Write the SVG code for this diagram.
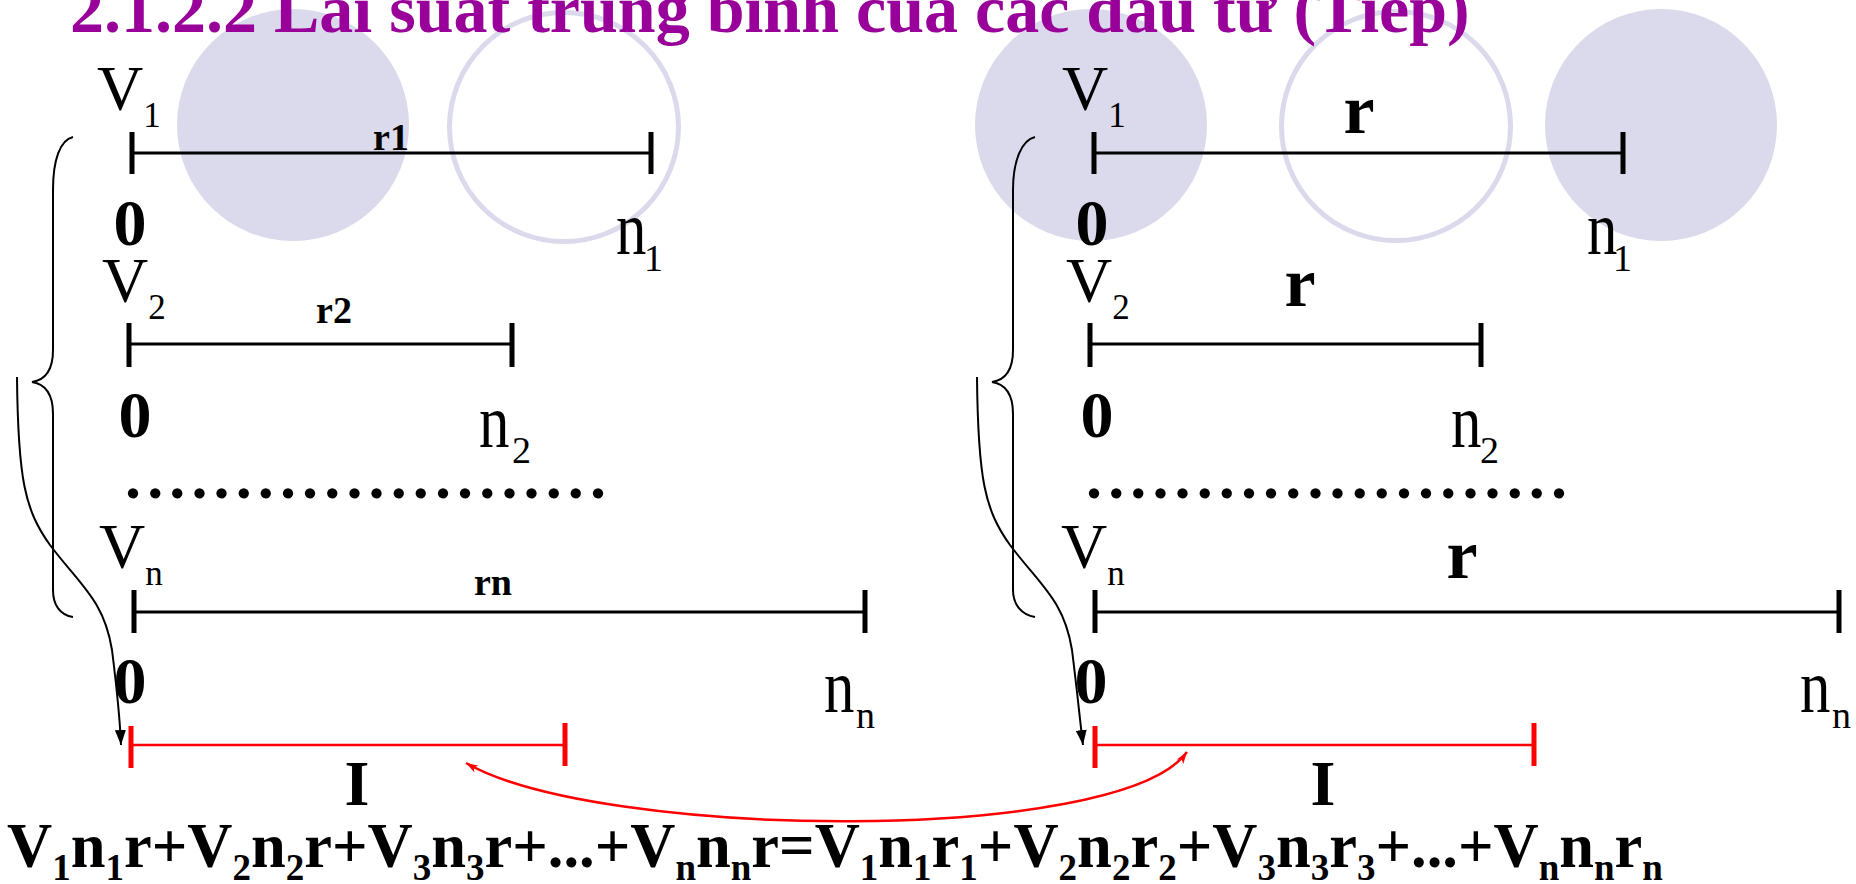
<svg xmlns="http://www.w3.org/2000/svg" width="1856" height="884" viewBox="0 0 1856 884">
<style>
.t{font-family:"Liberation Serif","Times New Roman",serif;fill:#000}
.reg{font-weight:normal}
.b{font-weight:bold}
.title{font-family:"Liberation Serif","Times New Roman",serif;font-weight:bold;font-size:68px;fill:#990099}
.ln{stroke:#000;stroke-width:3;fill:none}
.tk{stroke:#000;stroke-width:5;fill:none}
.rln{stroke:#ff0000;stroke-width:2.5;fill:none}
.rtk{stroke:#ff0000;stroke-width:5;fill:none}
.cf{fill:#dbd9ec}
.co{fill:none;stroke:#dbd9ec;stroke-width:5}
.br{stroke:#000;stroke-width:2;fill:none}
.dots{font-family:"Liberation Serif","Times New Roman",serif;font-weight:bold;font-size:64px;letter-spacing:6.14px}
</style>
<defs>
<marker id="ahb" viewBox="0 0 15 11" refX="15" refY="5.5" markerWidth="15" markerHeight="11" markerUnits="userSpaceOnUse" orient="auto"><path d="M0,0 L15,5.5 L0,11 z" fill="#000"/></marker>
<marker id="ahr" viewBox="0 0 12 8" refX="12" refY="4" markerWidth="12" markerHeight="8" markerUnits="userSpaceOnUse" orient="auto-start-reverse"><path d="M0,0 L12,4 L0,8 L3,4 z" fill="#ff0000"/></marker>
</defs>
<rect width="1856" height="884" fill="#fff"/>
<g id="decor">
<circle class="cf" cx="293" cy="125" r="116"/>
<circle class="co" cx="564" cy="127" r="114.5"/>
<circle class="cf" cx="1091" cy="125" r="116"/>
<circle class="co" cx="1396" cy="126" r="114.5"/>
<circle class="cf" cx="1661" cy="125" r="116"/>
</g>
<g id="title"><text class="title" x="70" y="32">2.1.2.2 Lãi suất trung bình của các đầu tư (Tiếp)</text></g>

<g id="left-line1">
<text class="t reg" x="97" y="110" font-size="64">V<tspan font-size="35" dy="17">1</tspan></text>
<line class="ln" x1="132" y1="153" x2="651" y2="153"/>
<line class="tk" x1="132" y1="132" x2="132" y2="174"/>
<line class="tk" x1="651" y1="132" x2="651" y2="174"/>
<text class="t b" x="391" y="150" font-size="38" text-anchor="middle">r1</text>
<text class="t b" x="130" y="245" font-size="66" text-anchor="middle">0</text>
<text class="t reg" transform="translate(616,254) scale(0.8,1)" font-size="76">n</text>
<text class="t reg" x="644" y="271" font-size="38">1</text>
</g>
<g id="left-line2">
<text class="t reg" x="102" y="302" font-size="64">V<tspan font-size="35" dy="17">2</tspan></text>
<line class="ln" x1="129" y1="344" x2="512" y2="344"/>
<line class="tk" x1="129" y1="323" x2="129" y2="367"/>
<line class="tk" x1="512" y1="323" x2="512" y2="367"/>
<text class="t b" x="334" y="323" font-size="38" text-anchor="middle">r2</text>
<text class="t b" x="135" y="437" font-size="66" text-anchor="middle">0</text>
<text class="t reg" transform="translate(479,447) scale(0.8,1)" font-size="76">n</text>
<text class="t reg" x="512" y="463" font-size="38">2</text>
</g>
<g id="left-dots"><text class="dots" x="125" y="498">......................</text></g>
<g id="left-linen">
<text class="t reg" x="99" y="568" font-size="64">V<tspan font-size="35" dy="17">n</tspan></text>
<line class="ln" x1="134" y1="612" x2="865" y2="612"/>
<line class="tk" x1="134" y1="590" x2="134" y2="633"/>
<line class="tk" x1="865" y1="590" x2="865" y2="633"/>
<text class="t b" x="493" y="595" font-size="38" text-anchor="middle">rn</text>
<text class="t b" x="130" y="703" font-size="66" text-anchor="middle">0</text>
<text class="t reg" transform="translate(824,712) scale(0.8,1)" font-size="76">n</text>
<text class="t reg" x="856" y="728" font-size="38">n</text>
</g>
<g id="left-I">
<line class="rln" x1="131" y1="745" x2="565" y2="745"/>
<line class="rtk" x1="131" y1="726" x2="131" y2="768"/>
<line class="rtk" x1="565" y1="723" x2="565" y2="766"/>
<text class="t b" x="357" y="805" font-size="64" text-anchor="middle">I</text>
</g>

<g id="right-line1">
<text class="t reg" x="1062" y="110" font-size="64">V<tspan font-size="35" dy="17">1</tspan></text>
<line class="ln" x1="1094" y1="153" x2="1623" y2="153"/>
<line class="tk" x1="1094" y1="132" x2="1094" y2="174"/>
<line class="tk" x1="1623" y1="132" x2="1623" y2="174"/>
<text class="t b" x="1359" y="133" font-size="70" text-anchor="middle">r</text>
<text class="t b" x="1092" y="245" font-size="66" text-anchor="middle">0</text>
<text class="t reg" transform="translate(1587,254) scale(0.8,1)" font-size="76">n</text>
<text class="t reg" x="1613" y="271" font-size="38">1</text>
</g>
<g id="right-line2">
<text class="t reg" x="1066" y="302" font-size="64">V<tspan font-size="35" dy="17">2</tspan></text>
<line class="ln" x1="1090" y1="344" x2="1481" y2="344"/>
<line class="tk" x1="1090" y1="323" x2="1090" y2="367"/>
<line class="tk" x1="1481" y1="323" x2="1481" y2="367"/>
<text class="t b" x="1300" y="306" font-size="70" text-anchor="middle">r</text>
<text class="t b" x="1097" y="437" font-size="66" text-anchor="middle">0</text>
<text class="t reg" transform="translate(1451,447) scale(0.8,1)" font-size="76">n</text>
<text class="t reg" x="1480" y="463" font-size="38">2</text>
</g>
<g id="right-dots"><text class="dots" x="1086" y="498">......................</text></g>
<g id="right-linen">
<text class="t reg" x="1061" y="568" font-size="64">V<tspan font-size="35" dy="17">n</tspan></text>
<line class="ln" x1="1095" y1="612" x2="1839" y2="612"/>
<line class="tk" x1="1095" y1="590" x2="1095" y2="633"/>
<line class="tk" x1="1839" y1="590" x2="1839" y2="633"/>
<text class="t b" x="1462" y="578" font-size="70" text-anchor="middle">r</text>
<text class="t b" x="1091" y="703" font-size="66" text-anchor="middle">0</text>
<text class="t reg" transform="translate(1800,712) scale(0.8,1)" font-size="76">n</text>
<text class="t reg" x="1832" y="728" font-size="38">n</text>
</g>
<g id="right-I">
<line class="rln" x1="1095" y1="745" x2="1534" y2="745"/>
<line class="rtk" x1="1095" y1="726" x2="1095" y2="768"/>
<line class="rtk" x1="1534" y1="723" x2="1534" y2="766"/>
<text class="t b" x="1323" y="805" font-size="64" text-anchor="middle">I</text>
</g>

<g id="equation">
<text class="t b" x="7" y="867" font-size="62.5">V<tspan font-size="37" dy="13">1</tspan><tspan dy="-13">n</tspan><tspan font-size="37" dy="13">1</tspan><tspan dy="-13">r+V</tspan><tspan font-size="37" dy="13">2</tspan><tspan dy="-13">n</tspan><tspan font-size="37" dy="13">2</tspan><tspan dy="-13">r+V</tspan><tspan font-size="37" dy="13">3</tspan><tspan dy="-13">n</tspan><tspan font-size="37" dy="13">3</tspan><tspan dy="-13">r+...+V</tspan><tspan font-size="37" dy="13">n</tspan><tspan dy="-13">n</tspan><tspan font-size="37" dy="13">n</tspan><tspan dy="-13">r=V</tspan><tspan font-size="37" dy="13">1</tspan><tspan dy="-13">n</tspan><tspan font-size="37" dy="13">1</tspan><tspan dy="-13">r</tspan><tspan font-size="37" dy="13">1</tspan><tspan dy="-13">+V</tspan><tspan font-size="37" dy="13">2</tspan><tspan dy="-13">n</tspan><tspan font-size="37" dy="13">2</tspan><tspan dy="-13">r</tspan><tspan font-size="37" dy="13">2</tspan><tspan dy="-13">+V</tspan><tspan font-size="37" dy="13">3</tspan><tspan dy="-13">n</tspan><tspan font-size="37" dy="13">3</tspan><tspan dy="-13">r</tspan><tspan font-size="37" dy="13">3</tspan><tspan dy="-13">+...+V</tspan><tspan font-size="37" dy="13">n</tspan><tspan dy="-13">n</tspan><tspan font-size="37" dy="13">n</tspan><tspan dy="-13">r</tspan><tspan font-size="37" dy="13">n</tspan></text>
</g>

<g id="connectors">
<path class="br" d="M73,137 C60,140 53,160 53,190 L53,350 C53,370 45,380 32,382 C45,384 53,394 53,414 L53,590 C53,605 60,615 73,617"/>
<path class="br" d="M1035,137 C1022,140 1013,160 1013,190 L1013,350 C1013,370 1005,380 992,382 C1005,384 1013,394 1013,414 L1013,590 C1013,605 1022,615 1035,617"/>
<path class="br" d="M17,377 C18,480 25,510 50,545 C80,585 104,600 112,650 C117,690 120,720 121,745" marker-end="url(#ahb)"/>
<path class="br" d="M977,377 C978,480 985,510 1010,545 C1040,585 1064,600 1072,650 C1077,690 1080,720 1083,745" marker-end="url(#ahb)"/>
<path d="M466,763 C600,840 1120,845 1187,752" fill="none" stroke="#ff0000" stroke-width="2.5" marker-start="url(#ahr)" marker-end="url(#ahr)"/>
</g>
</svg>
